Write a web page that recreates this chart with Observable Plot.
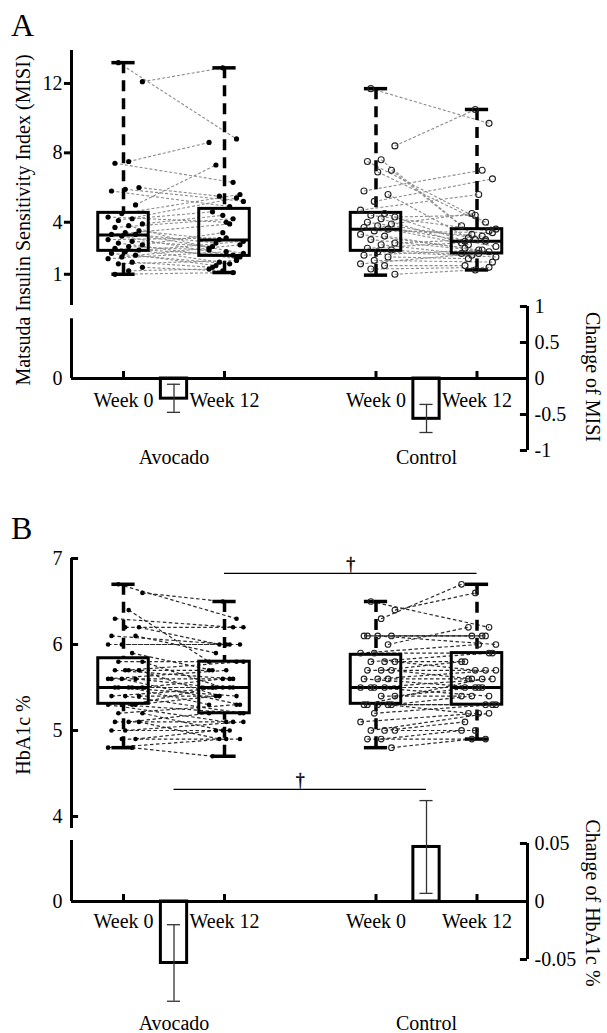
<!DOCTYPE html>
<html><head><meta charset="utf-8">
<script src="https://cdn.jsdelivr.net/npm/d3@7"></script>
<script src="https://cdn.jsdelivr.net/npm/@observablehq/plot@0.6"></script>
<style>
body{margin:0;background:#fff;}
#fig{position:relative;width:607px;height:1033px;overflow:hidden;font-family:"Liberation Serif","Times New Roman",Times,serif;color:#000;background:#fff;}
#fig svg{position:absolute;left:0;}
.plab{position:absolute;font-size:32px;line-height:32px;}
.rtitle{position:absolute;font-size:20px;line-height:20px;white-space:nowrap;}
</style></head><body><div id="fig"></div>
<script>
// ---------- categories ----------
const groups = ["Avocado", "Control"];
const weeks = ["Week 0", "Week 12"];

// ---------- Panel A: MISI, individual subjects (week 0 -> week 12) ----------
const misiAvoW0  = [13.2,12.1,7.5,7.4,6.0,5.9,5.8,5.0,4.5,4.3,4.2,4.1,3.9,3.8,3.7,3.5,3.4,3.3,3.3,3.2,3.0,2.9,2.8,2.7,2.6,2.5,2.4,2.3,2.2,2.1,2.0,1.9,1.7,1.6,1.4,1.2,1.0];
const misiAvoW12 = [8.8,12.9,8.6,6.3,5.5,5.2,4.9,7.3,5.6,4.0,4.6,5.4,4.4,2.5,4.2,3.0,2.2,3.9,2.8,2.0,3.1,2.6,1.9,3.4,2.4,2.1,1.7,2.9,1.6,1.5,2.7,2.3,1.4,1.8,1.2,1.3,1.1];
const misiConW0  = [11.7,8.4,7.6,7.5,7.0,6.9,5.8,5.6,5.2,4.7,4.5,4.4,4.3,4.2,4.0,3.9,3.8,3.7,3.6,3.5,3.3,3.2,3.0,2.8,2.7,2.5,2.4,2.3,2.1,2.0,1.8,1.6,1.5,1.3,1.0];
const misiConW12 = [9.7,10.5,3.8,4.0,3.3,3.6,7.0,3.1,6.5,5.6,2.9,3.5,4.4,2.8,3.0,4.5,2.6,3.2,2.7,3.4,2.4,2.5,2.3,3.0,2.2,2.9,2.1,2.0,2.4,1.9,1.7,2.2,1.5,1.4,1.25];
// box statistics: Avocado W0, Avocado W12, Control W0, Control W12
const misiMin = [1.0, 1.1, 0.95, 1.25];
const misiQ1  = [2.35, 2.06, 2.35, 2.2];
const misiMed = [3.27, 2.98, 3.6, 2.9];
const misiQ3  = [4.54, 4.77, 4.54, 3.6];
const misiMax = [13.2, 12.9, 11.7, 10.5];
const misiTicks = [1, 4, 8, 12];
// change of MISI (mean, error bar)
const misiChange   = [-0.28, -0.56];
const misiChangeLo = [-0.47, -0.75];
const misiChangeHi = [-0.08, -0.36];
const misiChangeTicks = [-1, -0.5, 0, 0.5, 1];
const misiChangeTickLabels = ["-1", "-0.5", "0", "0.5", "1"];

// ---------- Panel B: HbA1c % ----------
const hbAvoW0  = [6.7,6.6,6.4,6.3,6.2,6.2,6.1,6.1,6.0,6.0,5.9,5.8,5.8,5.7,5.7,5.7,5.7,5.6,5.6,5.6,5.6,5.5,5.5,5.5,5.5,5.5,5.4,5.4,5.4,5.3,5.3,5.3,5.3,5.2,5.2,5.1,5.1,5.1,5.0,5.0,4.9,4.9,4.8,4.8];
const hbAvoW12 = [6.3,6.5,5.8,6.2,6.0,6.2,6.0,5.9,6.0,6.0,5.7,5.8,5.5,5.7,5.6,5.4,5.8,5.6,5.5,5.3,5.7,5.5,5.4,5.6,5.3,5.5,5.4,5.2,5.5,5.4,5.2,5.1,5.5,5.3,5.0,5.2,5.1,4.9,5.1,5.0,5.0,4.9,4.9,4.7];
const hbConW0  = [6.5,6.4,6.3,6.1,6.1,6.1,6.1,6.0,5.9,5.9,5.8,5.8,5.8,5.7,5.7,5.7,5.6,5.6,5.6,5.5,5.5,5.5,5.5,5.4,5.4,5.3,5.3,5.3,5.3,5.3,5.2,5.1,5.0,5.0,5.0,4.9,4.9,4.8];
const hbConW12 = [6.2,6.6,6.7,6.1,6.1,6.0,6.1,6.2,5.9,6.0,5.8,5.9,5.7,5.8,5.7,5.6,5.7,5.5,5.6,5.6,5.5,5.5,5.4,5.5,5.4,5.3,5.4,5.3,5.6,5.2,5.3,5.2,5.1,5.2,5.0,5.0,4.9,4.9];
const hbMin = [4.8, 4.7, 4.8, 4.9];
const hbQ1  = [5.31, 5.2, 5.31, 5.3];
const hbMed = [5.5, 5.5, 5.5, 5.5];
const hbQ3  = [5.84, 5.8, 5.88, 5.9];
const hbMax = [6.7, 6.5, 6.5, 6.7];
const hbTicks = [4, 5, 6, 7];
const hbChange   = [-0.053, 0.047];
const hbChangeLo = [-0.086, 0.007];
const hbChangeHi = [-0.020, 0.087];
const hbChangeTicks = [-0.05, 0, 0.05];
const hbChangeTickLabels = ["-0.05", "0", "0.05"];

// ---------- layout ----------
const FONT = '"Liberation Serif","Times New Roman",Times,serif';
const fig = document.getElementById("fig");
const xMin = -0.515, xMax = 4.0;
const boxPos = [0, 1, 2.5, 3.5];   // Avocado W0, W12, Control W0, W12
const barPos = [0.5, 3.0];
const boxW = 0.25, capW = 0.115, barW = 0.13, errCap = 0.065;

function jit(i, k) { return ((((i * 7 + k * 5 + 3) % 11) / 10) - 0.45) * 0.34; }

function subjects(w0, w12, g) {
  return w0.map((v, i) => ({
    y0: v, y1: w12[i],
    x0: boxPos[g * 2] + jit(i, 0),
    x1: boxPos[g * 2 + 1] + jit(i, 1)
  }));
}
function stats(mn, q1, md, q3, mx) {
  return boxPos.map((x, k) => ({x, min: mn[k], q1: q1[k], med: md[k], q3: q3[k], max: mx[k]}));
}

function place(top, height, yDomain, yPage, marks) {
  const svg = Plot.plot({
    width: 607, height,
    x: {domain: [xMin, xMax], range: [71, 527], axis: null},
    y: {domain: yDomain, range: [yPage[0] - top, yPage[1] - top], axis: null},
    style: {fontFamily: FONT, fontSize: "20px", background: "transparent", overflow: "visible", color: "black"},
    marks
  });
  svg.style.position = "absolute";
  svg.style.top = top + "px";
  svg.style.left = "0px";
  fig.appendChild(svg);
}

function boxMarks(st) {
  return [
    Plot.ruleX(st, {x: "x", y1: "max", y2: "q3", stroke: "black", strokeWidth: 3.5, strokeDasharray: "11,7"}),
    Plot.ruleX(st, {x: "x", y1: "min", y2: "q1", stroke: "black", strokeWidth: 3.5, strokeDasharray: "11,7"}),
    Plot.ruleY(st, {y: "max", x1: d => d.x - capW, x2: d => d.x + capW, stroke: "black", strokeWidth: 3.5}),
    Plot.ruleY(st, {y: "min", x1: d => d.x - capW, x2: d => d.x + capW, stroke: "black", strokeWidth: 3.5}),
    Plot.rect(st, {x1: d => d.x - boxW, x2: d => d.x + boxW, y1: "q1", y2: "q3", fill: "none", stroke: "black", strokeWidth: 3}),
    Plot.ruleY(st, {y: "med", x1: d => d.x - boxW, x2: d => d.x + boxW, stroke: "black", strokeWidth: 3})
  ];
}

function changeMarks(change, lo, hi, ticks, tickLabels, tickLen, leftTop, weekDy, groupDy) {
  const bars = barPos.map((x, k) => ({x, v: change[k], lo: lo[k], hi: hi[k], g: groups[k]}));
  const wk = boxPos.map((x, k) => ({x, t: weeks[k % 2]}));
  const tk = ticks.map((v, k) => ({v, t: tickLabels[k]}));
  return [
    Plot.ruleX([xMin], {x: d => d, y1: 0, y2: leftTop, stroke: "black", strokeWidth: 3}),
    Plot.ruleX([xMax], {x: d => d, y1: ticks[0], y2: ticks[ticks.length - 1], stroke: "black", strokeWidth: 3}),
    Plot.ruleY(tk, {y: "v", x1: xMax - 0.07, x2: xMax, stroke: "black", strokeWidth: 3}),
    Plot.text(tk, {x: xMax, y: "v", text: "t", dx: 7, textAnchor: "start", fill: "black"}),
    Plot.text([0], {x: xMin, y: d => d, text: d => "0", dx: -9, textAnchor: "end", fill: "black"}),
    Plot.ruleX(wk, {x: "x", y1: 0, y2: tickLen, stroke: "black", strokeWidth: 3}),
    Plot.text(wk, {x: "x", y: 0, text: "t", dy: weekDy, fill: "black"}),
    Plot.rect(bars, {x1: d => d.x - barW, x2: d => d.x + barW, y1: 0, y2: "v", fill: "white", stroke: "black", strokeWidth: 3}),
    Plot.ruleY([0], {y: d => d, x1: xMin, x2: xMax, stroke: "black", strokeWidth: 3}),
    Plot.ruleX(bars, {x: "x", y1: "lo", y2: "hi", stroke: "#333", strokeWidth: 1.3}),
    Plot.ruleY(bars, {y: "lo", x1: d => d.x - errCap, x2: d => d.x + errCap, stroke: "#333", strokeWidth: 1.3}),
    Plot.ruleY(bars, {y: "hi", x1: d => d.x - errCap, x2: d => d.x + errCap, stroke: "#333", strokeWidth: 1.3}),
    Plot.text(bars, {x: "x", y: 0, text: "g", dy: groupDy, fill: "black"})
  ];
}

// ---------- Panel A ----------
const aAvo = subjects(misiAvoW0, misiAvoW12, 0);
const aCon = subjects(misiConW0, misiConW12, 1);
const aAll = aAvo.concat(aCon);
place(0, 312, [-0.8, 13.9], [305, 50], [
  Plot.ruleX([xMin], {x: d => d, y1: -0.8, y2: 13.9, stroke: "black", strokeWidth: 3}),
  Plot.ruleY(misiTicks, {y: d => d, x1: xMin - 0.07, x2: xMin, stroke: "black", strokeWidth: 3}),
  Plot.text(misiTicks, {x: xMin, y: d => d, text: d => String(d), dx: -9, textAnchor: "end", fill: "black"}),
  Plot.link(aAll, {x1: "x0", y1: "y0", x2: "x1", y2: "y1", stroke: "#8c8c8c", strokeWidth: 1.1, strokeDasharray: "3,2"}),
  ...boxMarks(stats(misiMin, misiQ1, misiMed, misiQ3, misiMax)),
  Plot.dot(aAvo, {x: "x0", y: "y0", r: 2.6, fill: "black", stroke: "none"}),
  Plot.dot(aAvo, {x: "x1", y: "y1", r: 2.6, fill: "black", stroke: "none"}),
  Plot.dot(aCon, {x: "x0", y: "y0", r: 3, fill: "white", fillOpacity: 0, stroke: "#222", strokeWidth: 1.1}),
  Plot.dot(aCon, {x: "x1", y: "y1", r: 3, fill: "white", fillOpacity: 0, stroke: "#222", strokeWidth: 1.1})
]);
place(296, 180, [-1, 1], [450, 306],
  changeMarks(misiChange, misiChangeLo, misiChangeHi, misiChangeTicks, misiChangeTickLabels, 0.097, 0.83, 22, 79));

// ---------- Panel B ----------
const bAvo = subjects(hbAvoW0, hbAvoW12, 0);
const bCon = subjects(hbConW0, hbConW12, 1);
const bAll = bAvo.concat(bCon);
place(480, 350, [3.86, 7.0], [828, 558], [
  Plot.ruleX([xMin], {x: d => d, y1: 3.86, y2: 7.0, stroke: "black", strokeWidth: 3}),
  Plot.ruleY(hbTicks, {y: d => d, x1: xMin, x2: xMin + 0.07, stroke: "black", strokeWidth: 3}),
  Plot.text(hbTicks, {x: xMin, y: d => d, text: d => String(d), dx: -9, textAnchor: "end", fill: "black"}),
  Plot.link(bAll, {x1: "x0", y1: "y0", x2: "x1", y2: "y1", stroke: "#2a2a2a", strokeWidth: 1.2, strokeDasharray: "3.5,2.5"}),
  ...boxMarks(stats(hbMin, hbQ1, hbMed, hbQ3, hbMax)),
  Plot.dot(bAvo, {x: "x0", y: "y0", r: 2.3, fill: "black", stroke: "none"}),
  Plot.dot(bAvo, {x: "x1", y: "y1", r: 2.3, fill: "black", stroke: "none"}),
  Plot.dot(bCon, {x: "x0", y: "y0", r: 2.8, fill: "white", fillOpacity: 0, stroke: "#222", strokeWidth: 1.1}),
  Plot.dot(bCon, {x: "x1", y: "y1", r: 2.8, fill: "white", fillOpacity: 0, stroke: "#222", strokeWidth: 1.1}),
  // significance: week 12 avocado vs week 12 control
  Plot.ruleY([6.826], {y: d => d, x1: boxPos[1], x2: boxPos[3], stroke: "black", strokeWidth: 1.3}),
  Plot.text([6.826], {x: (boxPos[1] + boxPos[3]) / 2, y: d => d, text: d => "\u2020", dy: -9, fontSize: 18, fill: "black", stroke: "black", strokeWidth: 0.4})
]);
place(760, 273, [-0.1, 0.1], [1017, 785], [
  ...changeMarks(hbChange, hbChangeLo, hbChangeHi, hbChangeTicks, hbChangeTickLabels, 0.006, 0.0526, 20, 122),
  Plot.ruleY([0.0966], {y: d => d, x1: barPos[0], x2: barPos[1], stroke: "black", strokeWidth: 1.3}),
  Plot.text([0.0966], {x: (barPos[0] + barPos[1]) / 2, y: d => d, text: d => "\u2020", dy: -9, fontSize: 18, fill: "black", stroke: "black", strokeWidth: 0.4})
]);

// ---------- panel letters and axis titles ----------
function addDiv(cls, text, css) {
  const d = document.createElement("div");
  d.className = cls; d.textContent = text;
  Object.assign(d.style, css);
  fig.appendChild(d);
}
addDiv("plab", "A", {left: "11px", top: "9px"});
addDiv("plab", "B", {left: "11px", top: "512px"});
addDiv("rtitle", "Matsuda Insulin Sensitivity Index (MISI)", {left: "23px", top: "220px", transform: "translate(-50%,-50%) rotate(-90deg)"});
addDiv("rtitle", "HbA1c %", {left: "23px", top: "735px", transform: "translate(-50%,-50%) rotate(-90deg)"});
addDiv("rtitle", "Change of MISI", {left: "593px", top: "377px", transform: "translate(-50%,-50%) rotate(90deg)"});
addDiv("rtitle", "Change of HbA1c %", {left: "593px", top: "903px", transform: "translate(-50%,-50%) rotate(90deg)"});
</script></body></html>
